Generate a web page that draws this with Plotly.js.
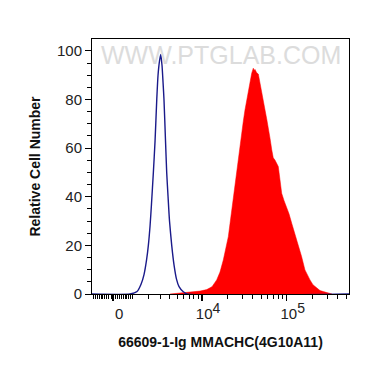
<!DOCTYPE html>
<html>
<head>
<meta charset="utf-8">
<script src="https://cdn.plot.ly/plotly-3.0.1.min.js"></script>
<style>html,body{margin:0;padding:0;background:#fff;}#chart{width:370px;height:367px;}</style>
</head>
<body>
<div id="chart"></div>
<script>
// Display-scale position (log-like decades, biexponential axis) and relative cell count
const controlX = [2.709, 3.156, 3.239, 3.286, 3.321, 3.351, 3.372, 3.392, 3.409, 3.431, 3.451, 3.471, 3.486, 3.504, 3.518, 3.533, 3.545, 3.556, 3.574, 3.588, 3.604, 3.621, 3.647, 3.674, 3.704, 3.733, 3.780, 3.827, 5.733];
const controlY = [0, 0, 1, 4, 8, 14, 20, 28, 37, 50, 63, 80, 90, 96, 98.5, 94, 87, 80, 63, 50, 40, 30, 20, 12, 6, 3, 1, 0, 0];

const sampleX = [3.627, 3.804, 3.980, 4.059, 4.121, 4.176, 4.215, 4.254, 4.286, 4.313, 4.333, 4.353, 4.372, 4.392, 4.412, 4.431, 4.451, 4.471, 4.489, 4.509, 4.529, 4.548, 4.568, 4.588, 4.607, 4.617, 4.627, 4.647, 4.666, 4.686, 4.706, 4.725, 4.745, 4.765, 4.784, 4.804, 4.824, 4.842, 4.862, 4.882, 4.901, 4.921, 4.941, 4.968, 5.000, 5.027, 5.059, 5.086, 5.118, 5.145, 5.176, 5.215, 5.245, 5.274, 5.309, 5.353, 5.392, 5.431, 5.475, 5.533];
const sampleY = [0, 0.5, 1.2, 1.8, 3, 5.8, 9, 14, 19, 23.6, 29, 34.6, 39, 44, 50, 55, 61, 66, 71, 75.7, 80, 84, 88, 90.8, 92.9, 92, 92.4, 91, 90.5, 87, 84, 80, 75.7, 72, 68.8, 64, 59.3, 56, 55.1, 54, 52.4, 47, 41.4, 38.5, 35.9, 33, 29.1, 26, 22.2, 18.5, 15.3, 9.9, 7.5, 5.8, 3.8, 2.3, 1.4, 1, 0.5, 0];

// Axis ticks (raw fluorescence values)
const majorTickValues = [0, 1e4, 1e5];
const majorTickLabels = ['0', "10<sup><span style='font-size:14px'>4</span></sup>", "10<sup><span style='font-size:14px'>5</span></sup>"];
const minorTickValues = [-1000, -900, -800, -700, -600, -500, -400, -300, -200, -100, 100, 200, 300, 400, 500, 600, 700, 800, 900, 1000,
  2000, 3000, 4000, 5000, 6000, 7000, 8000, 9000,
  20000, 30000, 40000, 50000, 60000, 70000, 80000, 90000,
  200000, 300000, 400000, 500000];
const yTickValues = [0, 20, 40, 60, 80, 100];

const xTitle = '66609-1-Ig MMACHC(4G10A11)';
const yTitle = 'Relative Cell Number';
const watermark = 'WWW.PTGLAB.COM';

// biexponential display transform for tick positions
const W = 905;
function toDisplay(v) { return Math.log10((v + Math.sqrt(v * v + 4 * W * W)) / 2); }

const font = "Arial, 'Liberation Sans', sans-serif";

const traces = [
  {
    x: sampleX, y: sampleY, type: 'scatter', mode: 'lines',
    fill: 'tozeroy', fillcolor: '#ff0000',
    line: {color: '#ff0000', width: 0.5, shape: 'linear'},
    hoverinfo: 'skip'
  },
  {
    x: controlX, y: controlY, type: 'scatter', mode: 'lines',
    line: {color: '#1a1a8a', width: 1.4, shape: 'spline', smoothing: 0.6},
    hoverinfo: 'skip'
  }
];

const layout = {
  width: 370, height: 367,
  margin: {l: 92, r: 21, t: 39, b: 73, pad: 0},
  paper_bgcolor: '#ffffff', plot_bgcolor: '#ffffff',
  showlegend: false,
  font: {family: font, color: '#222'},
  xaxis: {
    range: [2.709, 5.733], fixedrange: true,
    showgrid: false, zeroline: false,
    showline: true, linecolor: '#000', linewidth: 1, mirror: true,
    tickmode: 'array',
    tickvals: majorTickValues.map(toDisplay),
    ticktext: majorTickLabels,
    ticks: 'outside', ticklen: 6, tickwidth: 1.5, tickcolor: '#000',
    ticklabelshift: 6,
    tickfont: {family: font, size: 15, color: '#222'},
    minor: {tickmode: 'array', tickvals: minorTickValues.map(toDisplay), ticks: 'outside', ticklen: 4, tickwidth: 1, tickcolor: '#000', showgrid: false},
    title: {text: xTitle, font: {family: font, size: 14, color: '#111', weight: 'bold'}, standoff: 16}
  },
  yaxis: {
    range: [0, 104.9], fixedrange: true,
    showgrid: false, zeroline: false,
    showline: true, linecolor: '#000', linewidth: 1, mirror: true,
    tickmode: 'array', tickvals: yTickValues,
    ticks: 'outside', ticklen: 6, tickwidth: 1, tickcolor: '#000',
    tickfont: {family: font, size: 15, color: '#222'},
    minor: {tickmode: 'linear', tick0: 0, dtick: 5, ticks: 'outside', ticklen: 4, tickwidth: 1, tickcolor: '#000', showgrid: false},
    title: {text: yTitle, font: {family: font, size: 14, color: '#111', weight: 'bold'}, standoff: 13}
  },
  annotations: [
    {
      text: watermark, xref: 'paper', yref: 'paper', x: 0.502, y: 0.938,
      xanchor: 'center', yanchor: 'middle', showarrow: false,
      font: {family: font, size: 25, color: '#dcdcdc'}
    }
  ]
};

Plotly.newPlot('chart', traces, layout, {staticPlot: true, displayModeBar: false});
</script>
</body>
</html>
